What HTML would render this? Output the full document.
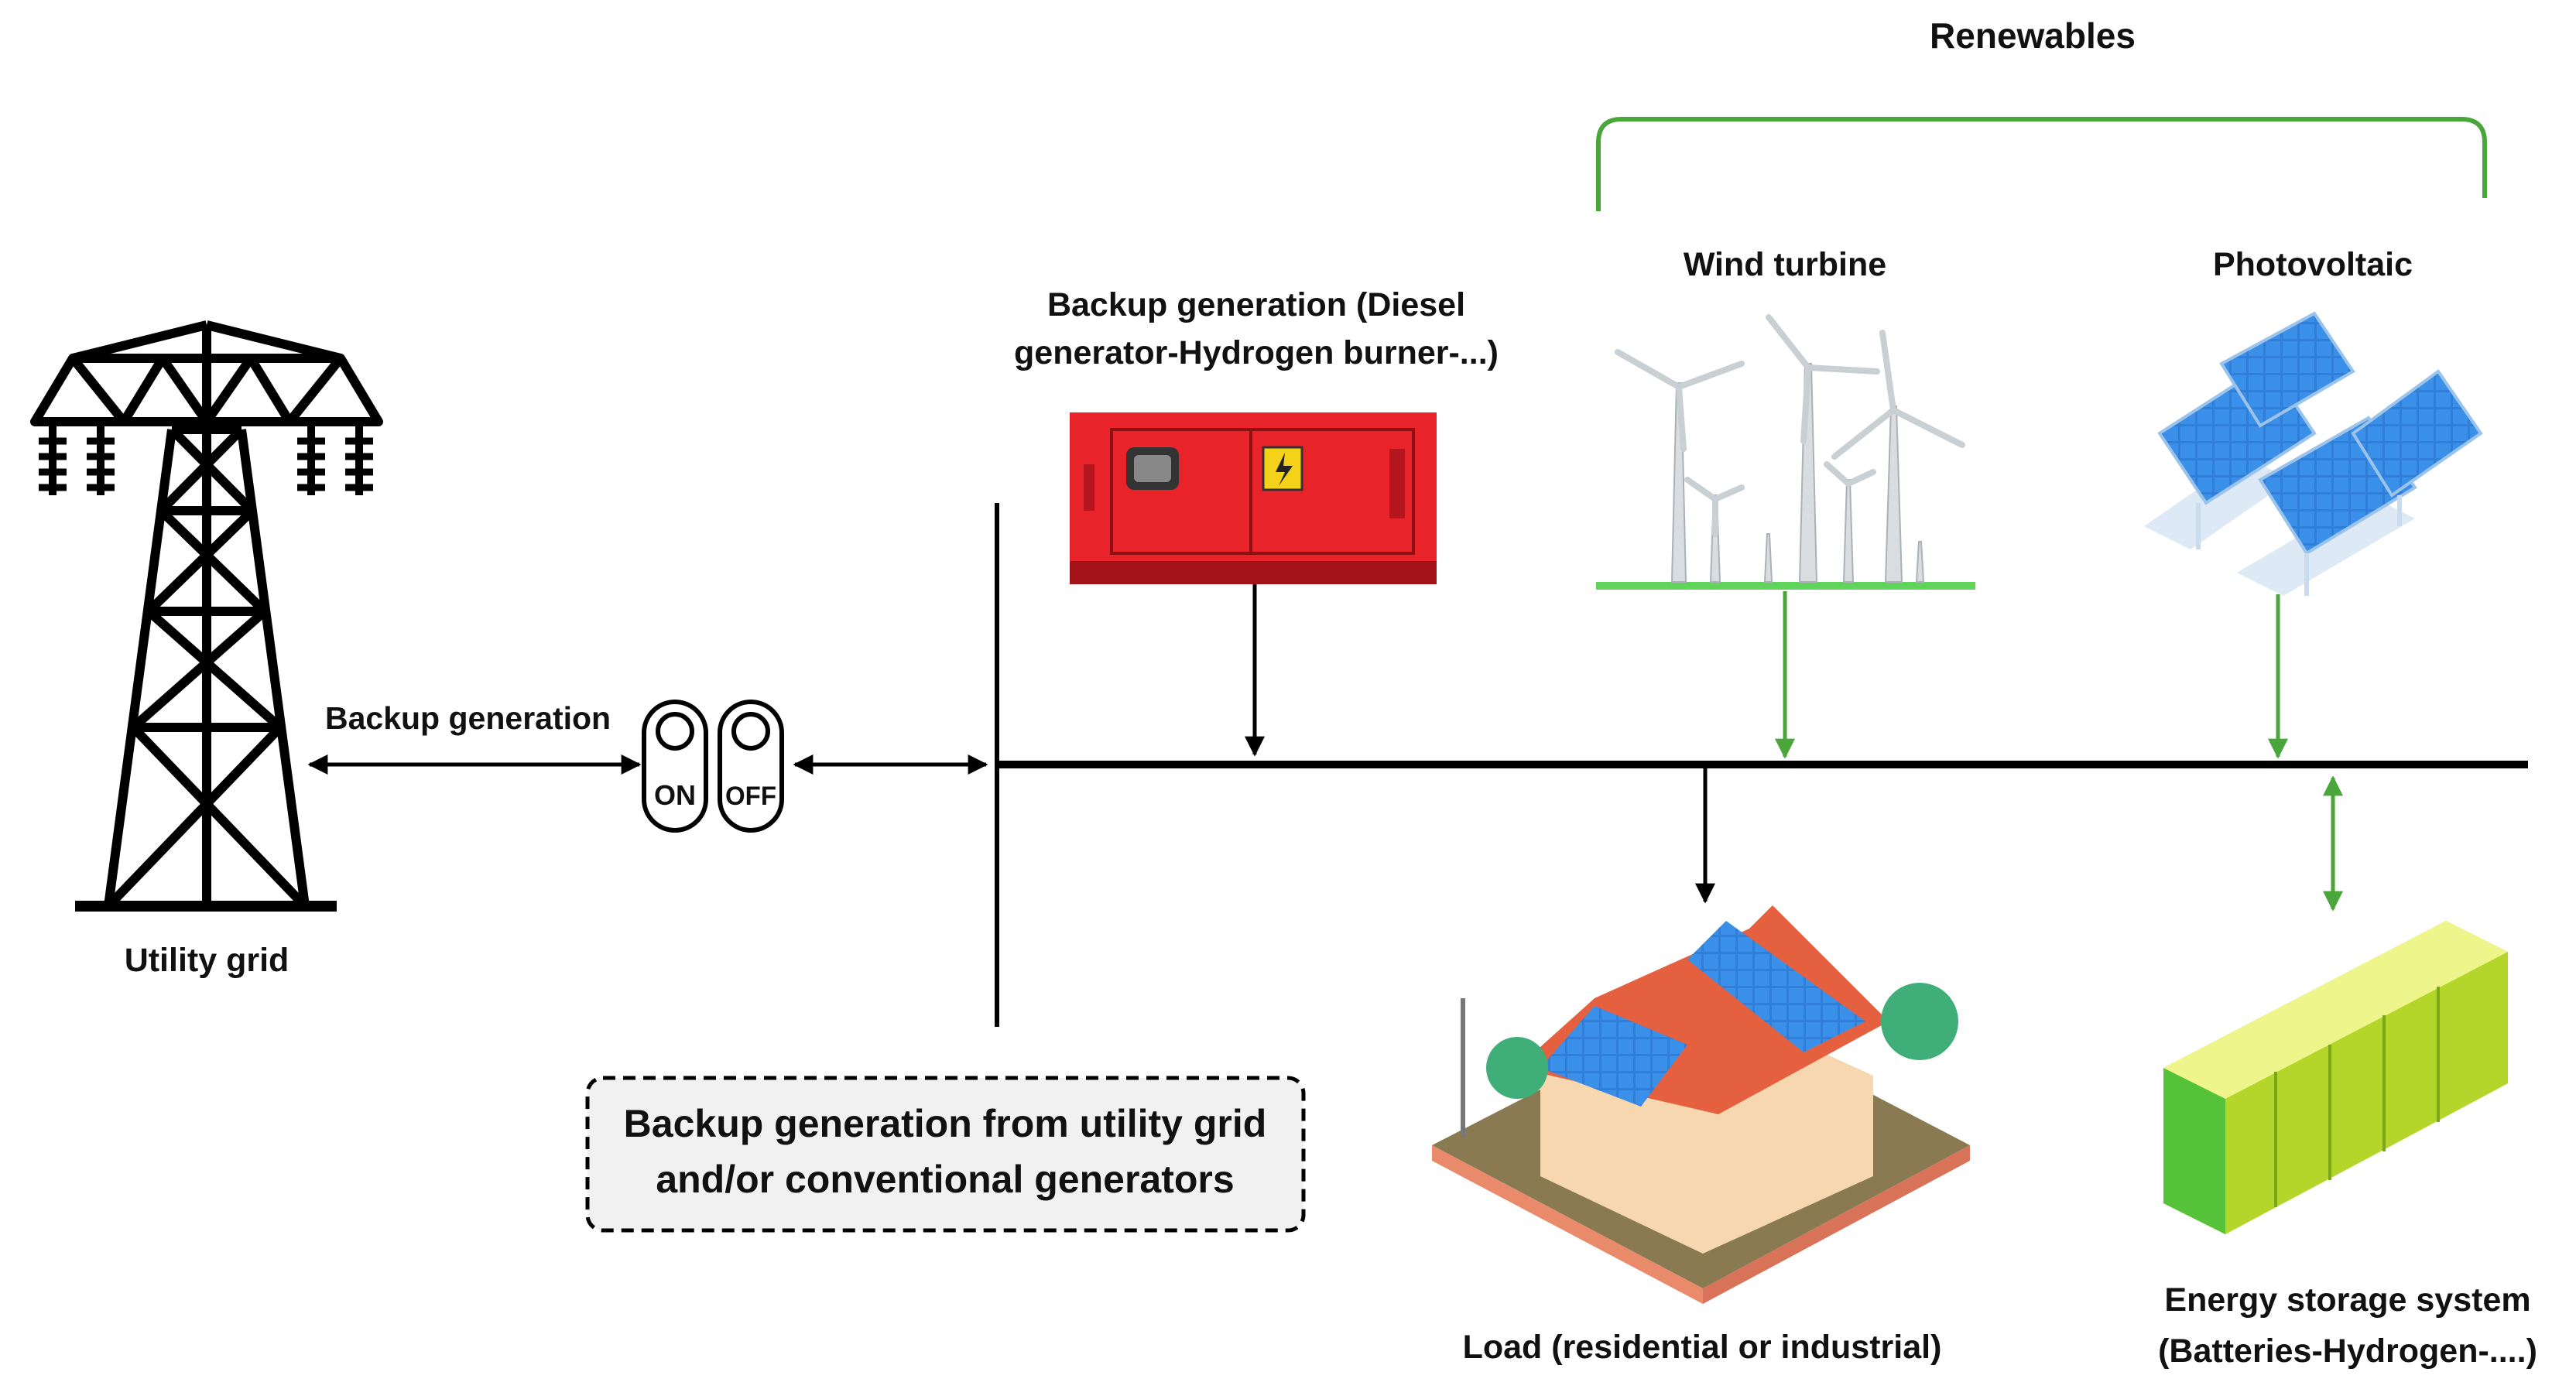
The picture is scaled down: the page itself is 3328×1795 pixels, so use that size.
<!DOCTYPE html>
<html><head><meta charset="utf-8"><style>
html,body{margin:0;padding:0;background:#fff;}
svg{display:block}
text{font-family:"Liberation Sans",sans-serif;font-weight:bold;fill:#111;}
</style></head><body>
<svg width="3328" height="1795" viewBox="0 0 3328 1795" xmlns="http://www.w3.org/2000/svg">
<defs>
<marker id="ab" markerWidth="10" markerHeight="10" refX="8" refY="5" orient="auto" markerUnits="userSpaceOnUse" viewBox="0 0 10 10"><path d="M0,0 L10,5 L0,10 z" fill="#000"/></marker>
<marker id="abk" viewBox="0 0 10 10" refX="9" refY="5" markerWidth="26" markerHeight="26" orient="auto-start-reverse" markerUnits="userSpaceOnUse"><path d="M0,0 L10,5 L0,10 z" fill="#000"/></marker>
<marker id="agr" viewBox="0 0 10 10" refX="9" refY="5" markerWidth="26" markerHeight="26" orient="auto-start-reverse" markerUnits="userSpaceOnUse"><path d="M0,0 L10,5 L0,10 z" fill="#4aa63a"/></marker>
<pattern id="cells" width="22" height="22" patternUnits="userSpaceOnUse"><rect width="22" height="22" fill="#2f7fd8"/><rect x="1" y="1" width="19" height="19" fill="#3a8fe8"/></pattern>
</defs>

<!-- Renewables -->
<text x="2626" y="62" font-size="46" text-anchor="middle">Renewables</text>
<path d="M2065,273 V184 Q2065,154 2095,154 H3180 Q3210,154 3210,184 V256" fill="none" stroke="#4aa63a" stroke-width="6"/>
<text x="2306" y="356" font-size="43" text-anchor="middle">Wind turbine</text>
<text x="2988" y="356" font-size="43" text-anchor="middle">Photovoltaic</text>
<text x="1623" y="408" font-size="43" text-anchor="middle">Backup generation (Diesel</text>
<text x="1623" y="470" font-size="43" text-anchor="middle">generator-Hydrogen burner-...)</text>

<!-- Tower -->
<g stroke="#000" stroke-width="12" fill="none" stroke-linejoin="round">
<line x1="97" y1="1171" x2="435" y2="1171" stroke-width="14"/>
<path d="M140,1171 L222,555 M394,1171 L312,555"/>
<path d="M222,555 L312,555 M208,660 L326,660 M192,790 L342,790 M172,940 L362,940"/>
<path d="M222,555 L326,660 L192,790 L362,940 L140,1171 M312,555 L208,660 L342,790 L172,940 L394,1171"/>
<line x1="267" y1="420" x2="267" y2="1171"/>
<path d="M45,545 L489,545 L440,463 L94,463 Z"/>
<path d="M94,463 L160,545 L210,463 L267,545 L324,463 L374,545 L440,463"/>
<path d="M267,420 L94,463 M267,420 L440,463"/>
</g>
<g stroke="#000" stroke-width="10">
<line x1="68" y1="545" x2="68" y2="640"/><line x1="130" y1="545" x2="130" y2="640"/>
<line x1="402" y1="545" x2="402" y2="640"/><line x1="464" y1="545" x2="464" y2="640"/>
</g>
<g stroke="#000" stroke-width="9">
<path d="M50,570h36M50,590h36M50,610h36M50,630h36 M112,570h36M112,590h36M112,610h36M112,630h36 M384,570h36M384,590h36M384,610h36M384,630h36 M446,570h36M446,590h36M446,610h36M446,630h36"/>
</g>
<text x="267" y="1255" font-size="43" text-anchor="middle">Utility grid</text>

<!-- left connections -->
<text x="420" y="942" font-size="41">Backup generation</text>
<line x1="400" y1="988" x2="826" y2="988" stroke="#000" stroke-width="5" marker-start="url(#abk)" marker-end="url(#abk)"/>
<line x1="1027" y1="988" x2="1274" y2="988" stroke="#000" stroke-width="5" marker-start="url(#abk)" marker-end="url(#abk)"/>
<g fill="none" stroke="#000" stroke-width="6">
<rect x="832" y="907" width="80" height="166" rx="40"/>
<rect x="930" y="907" width="80" height="166" rx="40"/>
<circle cx="872" cy="945" r="22"/><circle cx="970" cy="945" r="22"/>
</g>
<text x="872" y="1040" font-size="36" text-anchor="middle" font-family="Liberation Sans Narrow,Liberation Sans,sans-serif">ON</text>
<text x="970" y="1040" font-size="34" text-anchor="middle" textLength="66" lengthAdjust="spacingAndGlyphs">OFF</text>

<!-- bus -->
<line x1="1288" y1="650" x2="1288" y2="1327" stroke="#000" stroke-width="6"/>
<line x1="1288" y1="988" x2="3266" y2="988" stroke="#000" stroke-width="10"/>

<!-- generator -->
<rect x="1382" y="533" width="474" height="222" fill="#e8232a"/>
<rect x="1382" y="725" width="474" height="30" fill="#a3131a"/>
<rect x="1436" y="555" width="390" height="160" fill="none" stroke="#8e0f14" stroke-width="4"/>
<line x1="1616" y1="555" x2="1616" y2="715" stroke="#8e0f14" stroke-width="4"/>
<rect x="1455" y="578" width="68" height="55" rx="10" fill="#333"/><rect x="1465" y="588" width="48" height="35" rx="6" fill="#888"/>
<rect x="1632" y="578" width="50" height="55" fill="#f4d21a" stroke="#333" stroke-width="3"/>
<path d="M1660,585 L1648,610 L1660,610 L1652,628 L1670,602 L1658,602 Z" fill="#222"/>
<rect x="1400" y="600" width="14" height="60" fill="#b5151c"/><rect x="1795" y="580" width="20" height="90" fill="#b5151c"/>
<line x1="1621" y1="755" x2="1621" y2="975" stroke="#000" stroke-width="5" marker-end="url(#abk)"/>

<!-- wind -->
<rect x="2062" y="752" width="490" height="10" fill="#5fd35a"/>
<g fill="#d9dde0" stroke="#aab2b8" stroke-width="2">
<path d="M2160,752 L2166,495 L2172,495 L2178,752Z"/>
<path d="M2325,752 L2332,470 L2340,470 L2347,752Z"/>
<path d="M2436,752 L2443,525 L2450,525 L2457,752Z"/>
<path d="M2210,752 L2214,640 L2218,640 L2222,752Z"/>
<path d="M2382,752 L2386,620 L2390,620 L2394,752Z"/>
<path d="M2280,752 L2283,690 L2286,690 L2289,752Z"/>
<path d="M2476,752 L2479,700 L2482,700 L2485,752Z"/>
</g>
<g stroke="#c9d0d4" stroke-width="8" stroke-linecap="round">
<path d="M2169,500 L2090,455 M2169,500 L2175,580 M2169,500 L2250,470"/>
<path d="M2336,475 L2285,410 M2336,475 L2330,570 M2336,475 L2425,480"/>
<path d="M2446,530 L2432,430 M2446,530 L2370,590 M2446,530 L2535,575"/>
<path d="M2216,645 L2180,620 M2216,645 L2250,630 M2216,645 L2216,690"/>
<path d="M2388,625 L2360,600 M2388,625 L2420,610"/>
</g>
<line x1="2306" y1="764" x2="2306" y2="978" stroke="#4aa63a" stroke-width="5" marker-end="url(#agr)"/>

<!-- PV -->
<g fill="#dde9f5">
<path d="M2770,680 L2900,590 L2960,620 L2830,710Z"/>
<path d="M2890,740 L3060,640 L3120,670 L2950,770Z"/>
</g>
<g fill="url(#cells)" stroke="#9cc4ea" stroke-width="4">
<path d="M2790,560 L2930,470 L2990,560 L2850,650Z"/>
<path d="M2870,470 L2990,405 L3040,480 L2920,550Z"/>
<path d="M2920,620 L3060,540 L3120,630 L2980,715Z"/>
<path d="M3040,560 L3150,480 L3205,560 L3090,640Z"/>
</g>
<g stroke="#c9dcee" stroke-width="6"><line x1="2840" y1="650" x2="2840" y2="710"/><line x1="2980" y1="715" x2="2980" y2="770"/><line x1="3100" y1="640" x2="3100" y2="680"/></g>
<line x1="2943" y1="768" x2="2943" y2="978" stroke="#4aa63a" stroke-width="5" marker-end="url(#agr)"/>

<!-- load -->
<line x1="2203" y1="990" x2="2203" y2="1165" stroke="#000" stroke-width="5" marker-end="url(#abk)"/>
<path d="M1850,1480 L2200,1300 L2545,1480 L2200,1665 Z" fill="#8a7a52"/>
<path d="M1850,1480 L2200,1665 L2200,1685 L1850,1500Z" fill="#e98a6a"/>
<path d="M2545,1480 L2200,1665 L2200,1685 L2545,1500Z" fill="#d8735a"/>
<path d="M1990,1390 L2200,1290 L2420,1390 L2420,1520 L2200,1620 L1990,1520Z" fill="#f6d7b0"/>
<path d="M1960,1380 L2060,1290 L2260,1200 L2290,1170 L2440,1320 L2220,1440Z" fill="#e5603f"/>
<path d="M2230,1190 L2410,1320 L2330,1360 L2180,1240Z" fill="url(#cells)"/>
<path d="M1990,1380 L2060,1300 L2180,1350 L2120,1430Z" fill="url(#cells)"/>
<circle cx="1960" cy="1380" r="40" fill="#3fae78"/><circle cx="2480" cy="1320" r="50" fill="#3fae78"/>
<line x1="1890" y1="1290" x2="1890" y2="1470" stroke="#777" stroke-width="6"/>
<text x="2199" y="1755" font-size="43" text-anchor="middle">Load (residential or industrial)</text>

<!-- storage -->
<line x1="3014" y1="1005" x2="3014" y2="1175" stroke="#4aa63a" stroke-width="5" marker-start="url(#agr)" marker-end="url(#agr)"/>
<path d="M2795,1380 L3160,1190 L3240,1230 L3240,1400 L2875,1595 L2795,1555Z" fill="#c6e23a"/>
<path d="M2795,1380 L2875,1420 L2875,1595 L2795,1555Z" fill="#55c23a"/>
<path d="M2875,1420 L3240,1230 L3240,1400 L2875,1595Z" fill="#b4d62a"/>
<path d="M2795,1380 L3160,1190 L3240,1230 L2875,1420Z" fill="#eef58a"/>
<g stroke="#7aa81a" stroke-width="4"><line x1="2940" y1="1385" x2="2940" y2="1560"/><line x1="3010" y1="1350" x2="3010" y2="1525"/><line x1="3080" y1="1312" x2="3080" y2="1488"/><line x1="3150" y1="1275" x2="3150" y2="1450"/></g>
<text x="3033" y="1694" font-size="43" text-anchor="middle">Energy storage system</text>
<text x="3033" y="1760" font-size="43" text-anchor="middle">(Batteries-Hydrogen-....)</text>

<!-- dashed box -->
<rect x="759" y="1393" width="925" height="197" rx="20" fill="#f1f1f1" stroke="#000" stroke-width="5" stroke-dasharray="16,10"/>
<text x="1221" y="1469" font-size="50" text-anchor="middle">Backup generation from utility grid</text>
<text x="1221" y="1541" font-size="50" text-anchor="middle">and/or conventional generators</text>
</svg>
</body></html>
